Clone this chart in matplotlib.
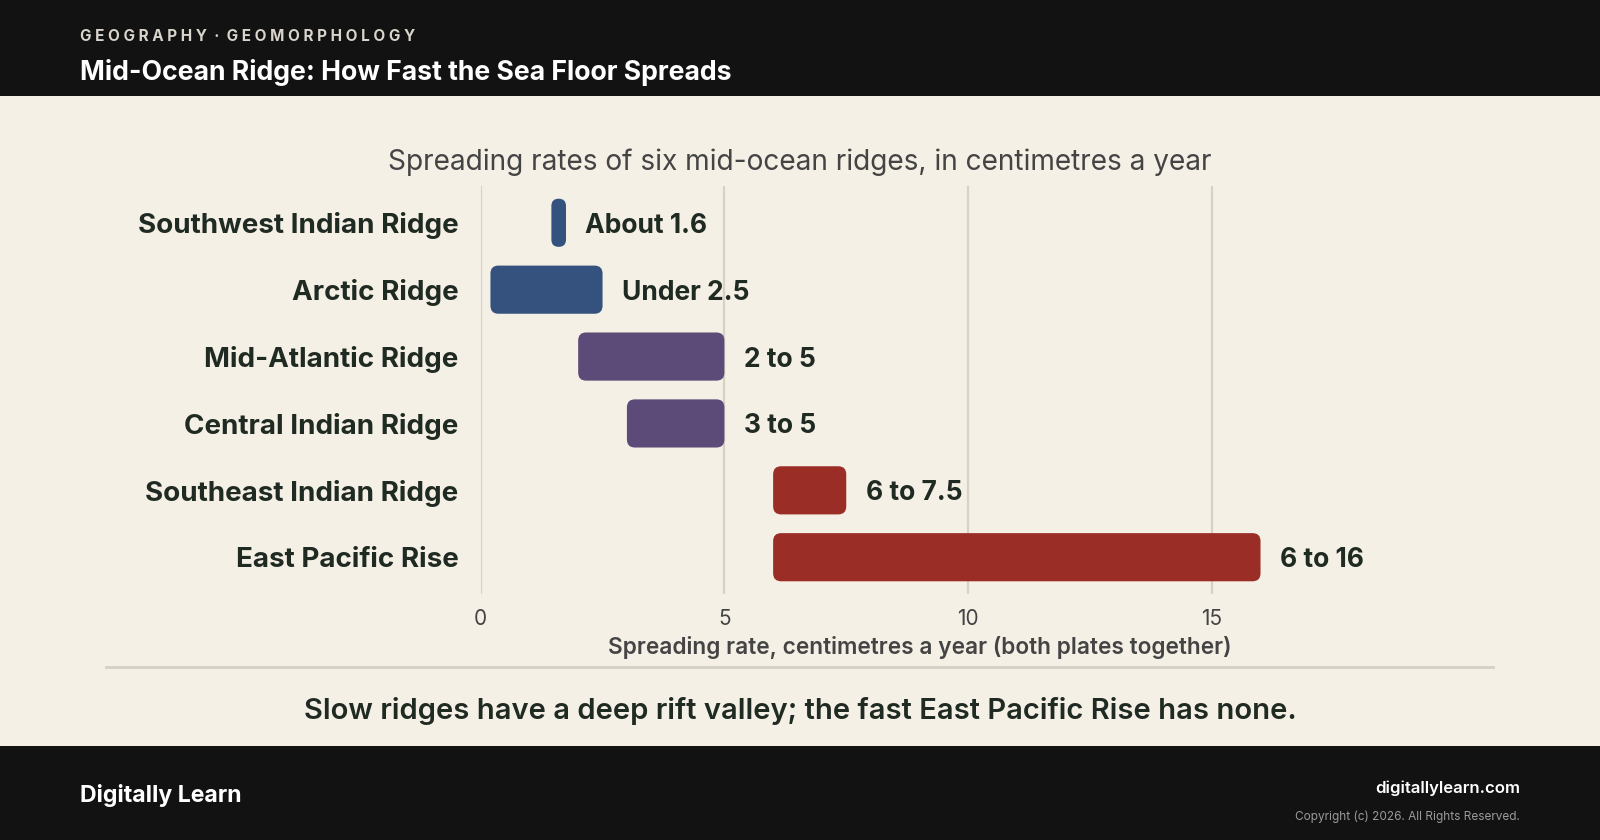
import matplotlib
matplotlib.use("Agg")
import matplotlib.pyplot as plt
from matplotlib.patches import FancyBboxPatch, Rectangle

plt.rcParams['font.family'] = ['Inter', 'DejaVu Sans']

ridges = ["Southwest Indian Ridge", "Arctic Ridge", "Mid-Atlantic Ridge",
          "Central Indian Ridge", "Southeast Indian Ridge", "East Pacific Rise"]
rate_low = [1.45, 0.2, 2.0, 3.0, 6.0, 6.0]
rate_high = [1.75, 2.5, 5.0, 5.0, 7.5, 16.0]
rate_labels = ["About 1.6", "Under 2.5", "2 to 5", "3 to 5", "6 to 7.5", "6 to 16"]
bar_colors = ["#34527d", "#34527d", "#5c4a78", "#5c4a78", "#9b2d27", "#9b2d27"]
xticks = [0, 5, 10, 15]

BG = "#f5f0e6"
DARK = "#121212"
INK = "#1f2a22"
GREY = "#444444"

fig = plt.figure(figsize=(16, 8.4), dpi=100)
fig.patch.set_facecolor(BG)

# header and footer bands
fig.patches.append(Rectangle((0, 1 - 96 / 840), 1, 96 / 840, transform=fig.transFigure,
                             facecolor=DARK, edgecolor="none", zorder=0))
fig.patches.append(Rectangle((0, 0), 1, 94 / 840, transform=fig.transFigure,
                             facecolor=DARK, edgecolor="none", zorder=0))

fig.text(80 / 1600, 1 - 35 / 840, "G E O G R A P H Y  ·  G E O M O R P H O L O G Y",
         color="#d9d4cc", fontsize=11, fontweight="bold", va="center_baseline", ha="left")
fig.text(80 / 1600, 1 - 69 / 840, "Mid-Ocean Ridge: How Fast the Sea Floor Spreads",
         color="white", fontsize=19.2, fontweight="bold", va="center_baseline", ha="left")

fig.text(800 / 1600, 1 - 159 / 840, "Spreading rates of six mid-ocean ridges, in centimetres a year",
         color=GREY, fontsize=20.2, va="center_baseline", ha="center")

ax = fig.add_axes([480.7 / 1600, 246 / 840, 877.3 / 1600, 408 / 840])
ax.set_facecolor(BG)
ax.set_xlim(0, 18)
ax.set_ylim(5.55, -0.55)

# rounding in pixels converted to data units
px_x = 877.3 / 18
px_y = 408 / 6.1
r = 8 / px_x
aspect = px_x / px_y
bar_h = 0.72

for i in range(len(ridges)):
    w = rate_high[i] - rate_low[i]
    rr = min(r, w / 2)
    box = FancyBboxPatch((rate_low[i], i - bar_h / 2), w, bar_h,
                         boxstyle="round,pad=0,rounding_size=%f" % rr,
                         mutation_aspect=aspect,
                         facecolor=bar_colors[i], edgecolor="none", zorder=3)
    ax.add_patch(box)
    ax.annotate(rate_labels[i], (rate_high[i], i), xytext=(14, 0), textcoords="offset points",
                va="center_baseline", ha="left", fontsize=19, fontweight="bold", color=INK, zorder=4)

ax.set_yticks(range(len(ridges)))
ax.set_yticklabels(ridges, fontsize=20, fontweight="bold", color=INK, va="center_baseline")
ax.set_xticks(xticks)
ax.set_xticklabels([str(t) for t in xticks], fontsize=15, color=GREY)
ax.tick_params(axis="both", length=0)
ax.tick_params(axis="y", pad=16)
ax.tick_params(axis="x", pad=11)
ax.grid(axis="x", color="#d8d2c6", linewidth=1.6, zorder=0)
ax.set_axisbelow(True)
for s in ax.spines.values():
    s.set_visible(False)
ax.set_xlabel("Spreading rate, centimetres a year (both plates together)",
              fontsize=16.3, fontweight="semibold", color=GREY, labelpad=5)

fig.lines.append(plt.Line2D([106 / 1600, 1493 / 1600], [1 - 667 / 840, 1 - 667 / 840],
                            transform=fig.transFigure, color="#d6d0c4", linewidth=2))

fig.text(800 / 1600, 1 - 708 / 840,
         "Slow ridges have a deep rift valley; the fast East Pacific Rise has none.",
         color=INK, fontsize=21, fontweight="semibold", va="center_baseline", ha="center")

fig.text(80 / 1600, 1 - 793 / 840, "Digitally Learn", color="white", fontsize=16.6,
         fontweight="bold", va="center_baseline", ha="left")
fig.text(1520 / 1600, 1 - 787 / 840, "digitallylearn.com", color="white", fontsize=12,
         fontweight="semibold", va="center_baseline", ha="right")
fig.text(1520 / 1600, 1 - 815 / 840, "Copyright (c) 2026. All Rights Reserved.", color="#9a9a9a",
         fontsize=8.5, va="center_baseline", ha="right")

fig.savefig("out.png", dpi=100, facecolor=BG)
